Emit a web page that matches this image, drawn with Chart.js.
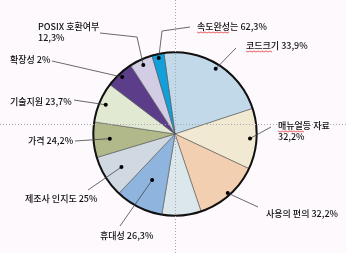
<!DOCTYPE html>
<html lang="ko">
<head>
<meta charset="UTF-8">
<title>Pie</title>
<script src="https://cdn.jsdelivr.net/npm/chart.js"></script>
<style>
  html, body { margin: 0; padding: 0; background: #fdf9fd; }
  #wrap { width: 346px; height: 253px; }
</style>
</head>
<body>
<div id="wrap"><canvas id="pie"></canvas></div>
<script>
// slices, clockwise from top (sizes read as angles off the picture)
const categories = ['코드크기', '매뉴얼등 자료', '사용의 편의', '', '휴대성', '제조사 인지도', '가격', '기술지원', '확장성', 'POSIX 호환여부', '속도완성는'];
const sliceValues = [79.6, 43.3, 46.3, 27.9, 34.1, 29.9, 25.2, 28.7, 19.9, 16.5, 8.6];
const percentLabels = ['33,9%', '32,2%', '32,2%', '', '26,3%', '25%', '24,2%', '23,7%', '2%', '12,3%', '62,3%'];
const colors = ['#c2d9ea', '#f1e9d1', '#f3cfb1', '#dbe7ea', '#8fb5de', '#d0d9e2', '#b1b98b', '#e1e9d2', '#5b3d89', '#d2cde5', '#139fd9'];

// label placement: text anchor, leader line points, dot radius fraction
const callouts = [
  { i: 0, x: 246, y: 46, lines: ['코드크기 33,9%'], path: [[236, 48]], r: 0.94, wavy: [246, 272] },
  { i: 1, x: 278, y: 126, lines: ['매뉴얼등 자료', '32,2%'], path: [[271, 127]], r: 0.92, wavy: [278, 304] },
  { i: 2, x: 266, y: 214, lines: ['사용의 편의 32,2%'], path: [[258, 207]], r: 0.97 },
  { i: 4, x: 100, y: 236, lines: ['휴대성 26,3%'], path: [[120, 226]], r: 0.63 },
  { i: 5, x: 25, y: 199, lines: ['제조사 인지도 25%'], path: [[88, 190]], r: 0.77 },
  { i: 6, x: 28, y: 141, lines: ['가격 24,2%'], path: [[75, 141]], r: 0.8 },
  { i: 7, x: 10, y: 102, lines: ['기술지원 23,7%'], path: [[74, 100]], r: 0.92 },
  { i: 8, x: 10, y: 60, lines: ['확장성 2%'], path: [[52, 61]], r: 0.95 },
  { i: 9, x: 38, y: 27, lines: ['POSIX 호환여부', '12,3%'], path: [[100, 33], [137, 37]], r: 0.93 },
  { i: 10, x: 197, y: 27, lines: ['속도완성는 62,3%'], path: [[190, 27], [162, 31]], r: 0.95, wavy: [197, 230] }
];

const calloutPlugin = {
  id: 'callouts',
  afterDatasetsDraw(chart) {
    const ctx = chart.ctx;
    const arcs = chart.getDatasetMeta(0).data;
    ctx.save();
    // outer rim
    const a0 = arcs[0];
    ctx.beginPath();
    ctx.arc(a0.x, a0.y, a0.outerRadius, 0, Math.PI * 2);
    ctx.lineWidth = 2;
    ctx.strokeStyle = '#111';
    ctx.stroke();

    // dotted guide lines
    ctx.setLineDash([1, 2]);
    ctx.lineWidth = 1;
    ctx.strokeStyle = '#a8a8b0';
    ctx.beginPath();
    ctx.moveTo(a0.x + 0.5, 0); ctx.lineTo(a0.x + 0.5, chart.height);
    ctx.moveTo(0, 124.5); ctx.lineTo(chart.width, 124.5);
    ctx.stroke();
    ctx.setLineDash([]);

    ctx.font = '500 9px "Noto Sans CJK KR", sans-serif';
    ctx.textBaseline = 'middle';
    ctx.textAlign = 'left';
    callouts.forEach(c => {
      const arc = arcs[c.i];
      const mid = (arc.startAngle + arc.endAngle) / 2;
      const dx = arc.x + Math.cos(mid) * arc.outerRadius * c.r;
      const dy = arc.y + Math.sin(mid) * arc.outerRadius * c.r;
      ctx.beginPath();
      ctx.moveTo(c.path[0][0], c.path[0][1]);
      c.path.slice(1).forEach(p => ctx.lineTo(p[0], p[1]));
      ctx.lineTo(dx, dy);
      ctx.lineWidth = 0.8;
      ctx.strokeStyle = '#444';
      ctx.stroke();
      ctx.beginPath();
      ctx.arc(dx, dy, 2, 0, Math.PI * 2);
      ctx.fillStyle = '#000';
      ctx.fill();
      ctx.fillStyle = '#111';
      c.lines.forEach((t, k) => ctx.fillText(t, c.x, c.y + k * 11));
      if (c.wavy) {
        ctx.beginPath();
        for (let x = c.wavy[0]; x <= c.wavy[1]; x += 2) {
          const yy = c.y + 5 + ((x - c.wavy[0]) % 4 === 0 ? 0 : 1);
          if (x === c.wavy[0]) ctx.moveTo(x, yy); else ctx.lineTo(x, yy);
        }
        ctx.lineWidth = 0.7;
        ctx.strokeStyle = '#e02020';
        ctx.stroke();
      }
    });
    ctx.restore();
  }
};

new Chart(document.getElementById('pie'), {
  type: 'pie',
  data: {
    labels: categories,
    datasets: [{
      data: sliceValues,
      backgroundColor: colors,
      borderColor: '#555',
      borderWidth: 0.6
    }]
  },
  options: {
    responsive: true,
    maintainAspectRatio: false,
    animation: false,
    rotation: -7.8,
    layout: { padding: { top: 52, bottom: 37, left: 4, right: 0 } },
    plugins: {
      legend: { display: false },
      tooltip: { enabled: false }
    }
  },
  plugins: [calloutPlugin]
});
</script>
</body>
</html>
